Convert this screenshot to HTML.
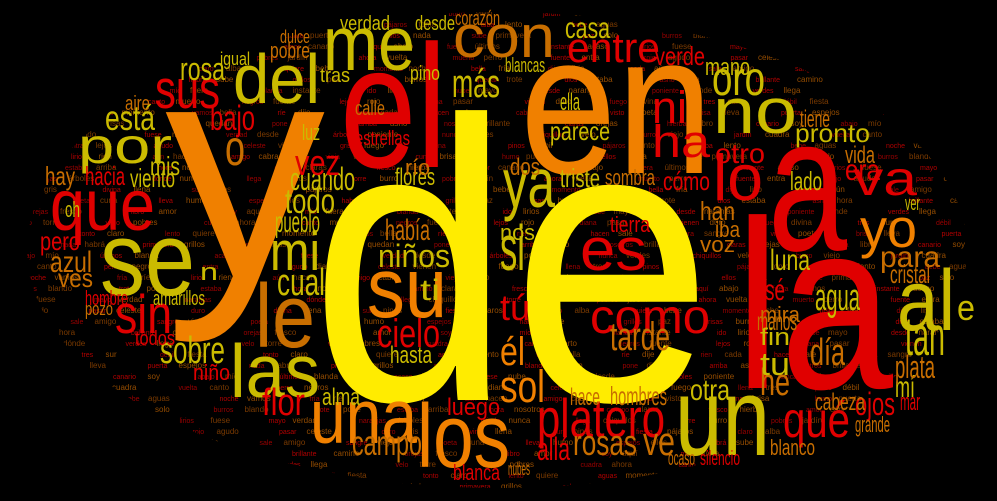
<!DOCTYPE html>
<html><head><meta charset="utf-8">
<style>
html,body{margin:0;padding:0;background:#000;}
svg{display:block;}
text{font-family:"Liberation Sans",sans-serif;}
</style></head>
<body>
<svg id="cloud" width="997" height="501" viewBox="0 0 997 501" xmlns="http://www.w3.org/2000/svg">
<defs><clipPath id="ell"><ellipse cx="497" cy="250" rx="470" ry="238"/></clipPath></defs>
<rect width="997" height="501" fill="#000"/>
<g id="filler" clip-path="url(#ell)"></g>
<g id="words"></g>
</svg>
<script>
// word data in parallel arrays, grouped 10 per line
const words = [
 "de","y","la","a","el","en","que","se","un","los",
 "una","las","su","me","con","del","sus","por","ya","si",
 "es","como","tan","yo","no","lo","ni","ha","va","sol",
 "platero","qué","él","sin","le","entre","casa","más","oro","rosa",
 "bajo","está","cielo","tarde","día","agua","niños","cuando","sobre","campo",
 "rosas","allá","azul","mi","cual","flor","ojos","mí","he","tú",
 "todo","vez","pueblo","había","o","mis","hacia","viento","hay","pero",
 "oh","estrellas","luz","calle","flores","río","pobre","verdad","desde","corazón",
 "dulce","igual","aire","luna","para","cristal","sé","mira","manos","fin",
 "tu","plata","mar","grande","blanco","cabeza","ve","otra","hombres","hace",
 "ocaso","silencio","nubes","verde","mano","era","parece","ella","triste","blancas",
 "cómo","otro","pronto","tiene","lado","vida","ver","dos","nos","han",
 "iba","tierra","sombra","ves","ti","hasta","luego","blanca","alma","niño",
 "amarillos","hombre","todos","pozo","e","al","n","voz","tras","pino"];
const sizes = [
 400,312,240,192,175,200,72,105,110,90,
 77,75,85,77,60,70,55,50,70,64,
 60,48,55,55,64,65,45,45,48,45,
 55,50,40,55,90,42,30,40,48,32,
 35,35,40,40,38,38,32,32,38,35,
 36,32,30,55,38,38,32,30,38,36,
 35,36,30,30,50,26,26,26,26,26,
 22,20,22,20,24,22,22,20,20,20,
 18,18,20,30,30,26,30,22,26,24,
 32,32,24,22,22,24,40,30,26,24,
 20,20,18,26,24,30,26,24,26,20,
 26,28,26,24,26,24,20,24,22,26,
 22,22,22,26,30,24,24,22,24,22,
 20,20,20,18,36,86,24,22,20,20];
const colors = [
 "Y","O","R","R","R","O","R","L","L","O",
 "O","L","O","L","B","L","R","L","L","L",
 "R","R","L","O","L","R","R","R","R","O",
 "R","R","O","R","B","R","L","L","L","L",
 "R","L","R","B","B","L","L","L","L","B",
 "B","R","B","L","L","R","R","L","B","R",
 "L","R","L","B","B","L","R","L","B","R",
 "L","R","L","B","L","B","B","L","L","B",
 "B","L","B","L","B","B","R","B","B","L",
 "L","B","R","B","B","B","B","L","B","B",
 "B","R","B","R","L","R","L","L","L","L",
 "R","R","L","B","L","B","L","B","L","B",
 "B","R","B","B","L","L","R","R","L","R",
 "L","R","R","B","L","L","L","B","L","L"];
const xs = [
 310,165,735,768,340,520,50,100,675,417,
 310,230,367,323,453,233,155,78,503,500,
 580,590,905,860,713,713,652,652,853,500,
 537,783,500,115,255,567,565,452,712,180,
 210,105,377,610,810,815,378,290,160,352,
 573,537,50,270,277,262,855,895,760,500,
 285,295,275,385,225,150,85,130,45,40,
 65,355,302,355,395,405,270,340,415,455,
 280,220,125,770,880,890,765,760,757,760,
 760,895,900,855,770,815,643,690,610,570,
 668,700,508,655,705,845,550,560,560,505,
 663,715,795,800,790,845,905,510,500,700,
 715,610,605,58,420,390,447,453,322,193,
 153,85,135,85,957,897,200,700,320,410];
const ys = [
 400,277,388,250,167,173,230,295,455,467,
 443,397,317,70,57,103,108,163,207,270,
 270,333,355,247,133,200,123,157,195,402,
 437,437,365,333,347,62,38,97,95,80,
 130,130,347,350,365,310,267,190,363,455,
 455,460,272,270,295,415,415,397,395,320,
 213,175,232,240,165,175,185,187,185,250,
 217,145,140,115,185,175,58,30,30,25,
 43,65,110,270,267,283,300,322,330,345,
 375,378,410,432,455,410,455,400,405,405,
 465,465,475,65,75,180,140,110,187,72,
 190,163,142,127,190,163,210,175,240,220,
 237,232,185,287,300,363,415,480,405,380,
 305,305,345,315,320,330,280,252,82,80];
const widths = [
 403,160,158,79,107,193,105,95,95,93,
 107,90,80,92,102,87,65,94,52,25,
 67,120,40,57,84,50,35,58,64,45,
 128,67,25,57,60,93,45,48,53,45,
 45,50,63,60,35,45,72,65,65,70,
 64,33,42,50,48,43,40,20,30,30,
 50,45,45,45,20,30,40,45,30,40,
 15,55,18,30,40,25,40,50,40,45,
 30,30,25,40,60,40,20,40,40,30,
 30,40,20,35,45,50,32,40,57,30,
 27,40,22,50,45,35,60,20,40,40,
 47,50,75,30,32,30,15,30,35,35,
 25,40,50,35,20,42,53,47,38,37,
 52,43,40,28,18,58,18,35,30,30];
const palette = {Y:"#ffec00",O:"#f08000",R:"#e00000",L:"#cbbb00",B:"#c86e00"};

const NS = "http://www.w3.org/2000/svg";
const g = document.getElementById("words");
for (let i = 0; i < words.length; i++) {
  const t = document.createElementNS(NS, "text");
  t.setAttribute("x", xs[i]);
  t.setAttribute("y", ys[i]);
  t.setAttribute("font-size", sizes[i]);
  t.setAttribute("fill", palette[colors[i]]);
  t.setAttribute("textLength", widths[i]);
  t.setAttribute("lengthAdjust", "spacingAndGlyphs");
  t.textContent = words[i];
  
  
  g.appendChild(t);
}

// background texture of small words
const fillerWords = ["verdad","desde","naranjas","árboles","poniente","dónde","nunca","verdes","llega","chiquillos","velo","torre","burro","viejo","pobres","jardín","cuadra","ahora","vuelta","canto","muerto","perro","negros","fuente","entra","lejos","rojo","agudo","diana","pasar","celeste","vienen","duro","gris","fuego","divina","llena","tres","sur","pinos","débil","fiesta","pájaros","tonto","claro","alba","lento","quiere","bebe","aguas","momento","noche","vamos","bella","fría","ríe","dije","lirio","rien","cada","aún","hacen","sale","amigo","cabra","sangre","vieja","visto","poeta","cuna","brisa","lleva","humo","puerta","espejos","ellos","nada","habrá","sube","primavera","grillos","paz","solo","risas","burros","blando","quedan","trote","pone","dios","estaba","arriba","asno","hora","nosotros","brillante","camino","claras","orejas","fresco","hierba","libro","amor","canario","soy","aquí","abajo","mío","fuera","últimos","blanda","instante","acaso","ido","lirios","fuese","nube","mayo"];
const fillerColors = ["#9a0000","#8a7e00","#944c00","#b00000","#a09200","#7a3a00"];
const fg = document.getElementById("filler");
let k = 0;
for (let y = 16; y < 495; y += 11) {
  let x = 10 + ((y * 7) % 29);
  while (x < 990) {
    const w = fillerWords[k % fillerWords.length];
    const fs = 7 + (k % 3);
    if (k % 3 !== 2) {
      const t = document.createElementNS(NS, "text");
      t.setAttribute("x", x);
      t.setAttribute("y", y);
      t.setAttribute("font-size", fs);
      t.setAttribute("fill", fillerColors[(k * 5) % fillerColors.length]);
      t.textContent = w;
      
      
      fg.appendChild(t);
    }
    x += w.length * fs * 0.5 + 10;
    k++;
  }
}
</script>
</body></html>
